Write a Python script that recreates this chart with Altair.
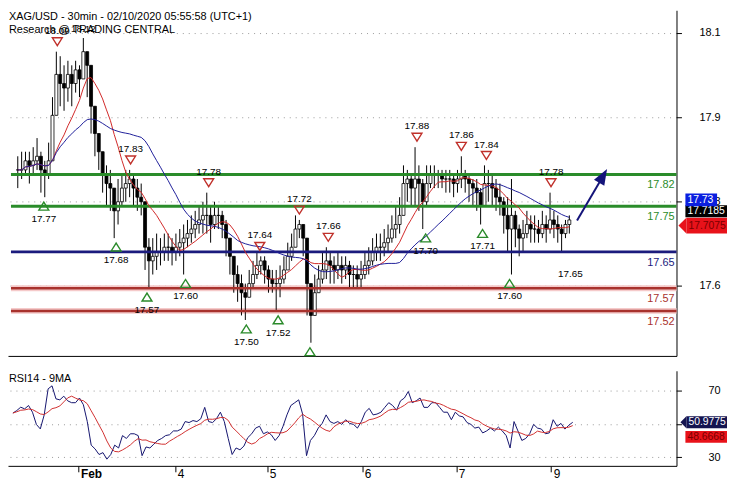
import json
import altair as alt
import pandas as pd

# ---------------- data (hourly candles) ----------------
close = [17.83,17.83,17.85,17.84,17.85,17.86,17.83,17.82,17.85,17.95,
18.04,18.02,18.01,18.04,18.02,18.05,18.03,18.09,18.06,17.97,
17.91,17.87,17.82,17.80,17.79,17.74,17.76,17.79,17.80,17.81,
17.79,17.77,17.76,17.66,17.63,17.64,17.65,17.65,17.66,17.66,
17.65,17.66,17.67,17.68,17.69,17.70,17.71,17.72,17.73,17.73,
17.71,17.73,17.73,17.71,17.68,17.64,17.60,17.58,17.56,17.55,
17.58,17.60,17.62,17.63,17.61,17.59,17.58,17.58,17.59,17.61,
17.64,17.66,17.70,17.71,17.68,17.58,17.51,17.56,17.59,17.61,
17.63,17.62,17.61,17.62,17.61,17.62,17.60,17.60,17.59,17.60,
17.62,17.63,17.65,17.66,17.66,17.67,17.68,17.70,17.71,17.73,
17.80,17.81,17.79,17.81,17.80,17.76,17.80,17.82,17.82,17.82,
17.81,17.81,17.81,17.80,17.81,17.82,17.81,17.80,17.79,17.78,
17.75,17.80,17.80,17.79,17.77,17.76,17.73,17.70,17.73,17.70,
17.68,17.69,17.71,17.70,17.70,17.69,17.71,17.70,17.72,17.71,
17.70,17.69,17.71,17.72]

high = [17.86,17.87,17.87,17.87,17.88,17.90,17.87,17.85,17.89,17.99,
18.09,18.08,18.06,18.07,18.06,18.07,18.06,18.12,18.09,18.01,
17.95,17.91,17.87,17.84,17.83,17.79,17.81,17.82,17.83,17.83,
17.82,17.81,17.80,17.73,17.68,17.68,17.69,17.68,17.69,17.69,
17.68,17.69,17.70,17.71,17.72,17.73,17.74,17.75,17.76,17.78,
17.75,17.76,17.75,17.74,17.72,17.68,17.64,17.62,17.60,17.58,
17.61,17.63,17.65,17.64,17.64,17.62,17.61,17.61,17.62,17.64,
17.67,17.69,17.73,17.72,17.71,17.64,17.58,17.60,17.62,17.65,
17.66,17.65,17.64,17.65,17.64,17.64,17.63,17.62,17.62,17.63,
17.65,17.66,17.68,17.69,17.69,17.70,17.71,17.73,17.75,17.77,
17.84,17.83,17.82,17.88,17.84,17.81,17.84,17.84,17.84,17.83,
17.83,17.83,17.83,17.82,17.83,17.86,17.83,17.82,17.81,17.81,
17.79,17.84,17.83,17.82,17.81,17.80,17.77,17.77,17.81,17.74,
17.71,17.72,17.74,17.73,17.73,17.72,17.74,17.73,17.78,17.74,
17.73,17.71,17.72,17.73]

low = [17.79,17.81,17.82,17.80,17.82,17.83,17.78,17.77,17.81,17.89,
17.97,17.97,17.96,17.98,17.97,18.00,17.99,18.06,17.99,17.91,
17.86,17.83,17.78,17.75,17.74,17.68,17.71,17.75,17.76,17.77,
17.75,17.74,17.73,17.61,17.57,17.60,17.61,17.62,17.63,17.63,
17.62,17.63,17.64,17.60,17.66,17.67,17.68,17.69,17.69,17.69,
17.67,17.70,17.70,17.68,17.64,17.60,17.56,17.54,17.51,17.50,
17.55,17.57,17.59,17.60,17.58,17.56,17.56,17.52,17.55,17.58,
17.61,17.63,17.67,17.68,17.64,17.51,17.45,17.51,17.56,17.58,
17.59,17.58,17.58,17.59,17.58,17.59,17.57,17.57,17.57,17.57,
17.59,17.60,17.62,17.63,17.63,17.64,17.65,17.67,17.68,17.69,
17.74,17.76,17.75,17.75,17.74,17.70,17.75,17.79,17.79,17.79,
17.79,17.78,17.78,17.77,17.78,17.79,17.78,17.76,17.75,17.74,
17.71,17.75,17.76,17.75,17.74,17.73,17.69,17.65,17.60,17.66,
17.64,17.65,17.68,17.67,17.67,17.67,17.68,17.67,17.69,17.68,
17.67,17.65,17.68,17.69]

rsi = [56.5,58,60,59,61,57,49.7,47,55.4,71,
72.8,65,64.4,66.6,63.8,62.7,62.7,65.5,61.5,51.4,
37.3,35,31.7,32.8,28.9,31.7,37.3,35.6,43,41.3,
44.1,44.1,43,31,36.2,35.6,37.9,40.1,41.3,43,
43.5,45.8,45.8,46.9,51.4,50.8,52,51.4,53.1,59.9,
51.4,50.8,53.1,57,51.4,41.3,31.7,35.6,34.5,36.7,
41.8,44.1,47.5,48.6,44.1,45.2,43.5,40.1,43,48.6,
55.4,61,62.7,64.4,55.9,31,40.1,43,47.5,50.3,
55.4,51.4,50.3,51.4,49.7,52.5,50.3,49.7,47.5,51.4,
57,59.3,55.4,55.9,57,59.9,62.7,61,58.2,63.8,
65.5,69.4,62.7,63.8,65.5,59.9,59.9,62.7,62.7,59.9,
57,57,52.5,57,54.8,54.2,50.8,49.7,47.5,48.1,
44.6,45.8,47.5,45.8,48.1,45.8,43,35.6,51.4,45.8,
40.1,41.3,44.1,49.7,47.5,46.9,44.1,44.6,52.5,48.6,
50.3,46.9,49.2,50.98]

res_i = [10.25, 29.25, 49.5, 62.75, 73, 80.5, 103.5, 115, 121.5, 138.25]
res_v = [18.09, 17.83, 17.78, 17.64, 17.72, 17.66, 17.88, 17.86, 17.84, 17.78]
sup_i = [6.75, 25.5, 33.5, 43.5, 59.25, 67.5, 75.75, 105.75, 120.5, 127.5]
sup_v = [17.77, 17.68, 17.57, 17.60, 17.50, 17.52, 17.45, 17.70, 17.71, 17.60]
sup_txt = ["17.77", "17.68", "17.57", "17.60", "17.50", "17.52", "", "17.70", "17.71", "17.60"]
top_i, top_v, top_txt = [17], [18.12], ["18.12"]
low_i, low_v, low_txt = [143.25], [17.65], ["17.65"]

level_v = [17.82, 17.75, 17.65, 17.57, 17.52]
level_k = ["res", "res", "piv", "sup", "sup"]

day_pos = [16.75, 41.5, 65, 89.25, 113.25, 137.5]
day_lab = ["Feb", "4", "5", "6", "7", "9"]
price_ticks = [17.575, 17.760, 17.946, 18.131]
rsi_ticks = [30, 50, 70]

arrow_i = [145, 151.5]
arrow_v = [17.719, 17.813]

titles = ["XAG/USD - 30min - 02/10/2020 05:55:58 (UTC+1)", "Research @ TRADING CENTRAL"]
rsi_title = "RSI14 - 9MA"

# ---------------- layout ----------------
W, H1, H2 = 675, 349, 96
FONT = "Liberation Sans"
xs = alt.Scale(domain=[-1.25, 169.5], nice=False, zero=False)
ys = alt.Scale(domain=[17.421, 18.181], nice=False, zero=False)
rs = alt.Scale(domain=[24.9, 81.8], nice=False, zero=False)

GRID = dict(grid=True, gridColor="#9a9a9a", gridDash=[1, 5], gridWidth=1)
ax_x_main = alt.Axis(title=None, labels=False, ticks=False, grid=False, domainColor="black",
                     minExtent=0, maxExtent=0)
ax_y_main = alt.Axis(title=None, orient="right", values=price_ticks, format=".1f", tickSize=5,
                     tickColor="black", domainColor="black", labelAlign="right", labelPadding=39,
                     labelFontSize=11, labelColor="black", **GRID)
label_expr = f"{json.dumps(day_lab)}[indexof({json.dumps(day_pos)}, datum.value)]"
ax_x_rsi = alt.Axis(title=None, values=day_pos, labelExpr=label_expr, tickSize=6, tickColor="black",
                    domainColor="black", labelAlign="left", labelBaseline="top", labelPadding=-3,
                    labelOffset=2, labelFontSize=12, labelColor="black",
                    labelFontWeight=alt.ExprRef("datum.value == 16.75 ? 'bold' : 'normal'"),
                    grid=False, labelOverlap=False, labelFlush=False)
ax_y_rsi = alt.Axis(title=None, orient="right", values=rsi_ticks, format="d", tickSize=5,
                    tickColor="black", domainColor="black", labelAlign="right", labelPadding=39,
                    labelFontSize=11, labelColor="black", **GRID)


def XM(f):
    return alt.X(f, type="quantitative", scale=xs, axis=ax_x_main)


def YM(f):
    return alt.Y(f, type="quantitative", scale=ys, axis=ax_y_main)


def XR(f):
    return alt.X(f, type="quantitative", scale=xs, axis=ax_x_rsi)


def YR(f):
    return alt.Y(f, type="quantitative", scale=rs, axis=ax_y_rsi)


# ---------------- main panel ----------------
n = len(close)
opens = [close[0]] + close[:-1]
cdf = pd.DataFrame({
    "i": list(range(n)),
    "open": opens,
    "close": close,
    "high": [max(h, o, c) for h, o, c in zip(high, opens, close)],
    "low": [min(l, o, c) for l, o, c in zip(low, opens, close)],
})

wick = alt.Chart(cdf).mark_rule(color="black", strokeWidth=1).encode(
    x=XM("i"), y=YM("low"), y2="high")
body = alt.Chart(cdf).mark_bar(width=3, stroke="black", strokeWidth=0.8).encode(
    x=XM("i"), y=YM("open"), y2="close",
    fill=alt.condition("datum.close >= datum.open", alt.value("white"), alt.value("black")))
ma_red = alt.Chart(cdf).transform_window(
    ma="mean(close)", frame=[-9, 0], sort=[alt.SortField("i")]
).mark_line(color="#d02828", strokeWidth=1).encode(x=XM("i"), y=YM("ma"))
ma_blue = alt.Chart(cdf).transform_window(
    ma="mean(close)", frame=[-24, 0], sort=[alt.SortField("i")]
).mark_line(color="#1f1f9a", strokeWidth=1).encode(x=XM("i"), y=YM("ma"))

ldf = pd.DataFrame({"v": level_v, "k": level_k, "t": [f"{v:.2f}" for v in level_v]})
line_scale = alt.Scale(domain=["res", "piv", "sup"], range=["#2a8c2a", "#1b1b7d", "#a8322d"])
text_scale = alt.Scale(domain=["res", "piv", "sup"], range=["#2e8b2e", "#1c1c70", "#a33a3a"])
size_scale = alt.Scale(domain=["res", "piv", "sup"], range=[3, 2.5, 2.5])
halo = alt.Chart(ldf).transform_filter("datum.k == 'sup'").mark_rule(
    strokeWidth=6, color="#f5caca").encode(x=alt.value(3), x2=alt.value(W), y=YM("v"))
levels = alt.Chart(ldf).mark_rule().encode(
    x=alt.value(3), x2=alt.value(W), y=YM("v"),
    color=alt.Color("k:N", scale=line_scale, legend=None),
    size=alt.Size("k:N", scale=size_scale, legend=None))
level_txt = alt.Chart(ldf).mark_text(align="right", baseline="middle", dy=11, fontSize=11).encode(
    x=alt.value(W - 2), y=YM("v"), text="t:N",
    color=alt.Color("k:N", scale=text_scale, legend=None))

TRI_DOWN = "M-1,-0.8L1,-0.8L0,0.8Z"
TRI_UP = "M-1,0.8L1,0.8L0,-0.8Z"
rdf_m = pd.DataFrame({"i": res_i, "v": res_v, "t": [f"{v:.2f}" for v in res_v]})
sdf_m = pd.DataFrame({"i": sup_i, "v": sup_v, "t": sup_txt})
res_tri = alt.Chart(rdf_m).mark_point(shape=TRI_DOWN, size=100, color="#c0302a", strokeWidth=1.4,
                                      filled=False, opacity=1, yOffset=-10).encode(x=XM("i"), y=YM("v"))
res_lab = alt.Chart(rdf_m).mark_text(dy=-21, fontSize=10, color="black").encode(
    x=XM("i"), y=YM("v"), text="t:N")
sup_tri = alt.Chart(sdf_m).mark_point(shape=TRI_UP, size=100, color="#2a8a2a", strokeWidth=1.4,
                                      filled=False, opacity=1, yOffset=9).encode(x=XM("i"), y=YM("v"))
sup_lab = alt.Chart(sdf_m).mark_text(dy=22, fontSize=10, color="black").encode(
    x=XM("i"), y=YM("v"), text="t:N")
top_lab = alt.Chart(pd.DataFrame({"i": top_i, "v": top_v, "t": top_txt})).mark_text(
    dy=-9, fontSize=10, color="black").encode(x=XM("i"), y=YM("v"), text="t:N")
low_lab = alt.Chart(pd.DataFrame({"i": low_i, "v": low_v, "t": low_txt})).mark_text(
    dy=22, fontSize=10, color="black").encode(x=XM("i"), y=YM("v"), text="t:N")

adf = pd.DataFrame({"i": arrow_i, "v": arrow_v})
arrow_line = alt.Chart(adf).mark_line(color="#14147a", strokeWidth=2).encode(x=XM("i"), y=YM("v"))
arrow_head = alt.Chart(adf.tail(1)).mark_point(
    shape="M0,-1L0.6,0.6L-0.6,0.6Z", size=400, filled=True, color="#14147a", opacity=1, angle=30
).encode(x=XM("i"), y=YM("v"))


def box(v, label, off, half, x0, x1, fill, tcolor, arrow, Yf):
    base = alt.Chart(pd.DataFrame({"v": [v], "t": [label]}))
    out = [base.mark_rect(color=fill, yOffset=off - half, y2Offset=off + half).encode(
        x=alt.value(x0), x2=alt.value(x1), y=Yf("v"), y2="v")]
    if arrow:
        out.append(base.mark_point(shape="M0.5,-1L-0.5,0L0.5,1Z", size=(2 * half) ** 2, filled=True,
                                   color=fill, opacity=1, strokeWidth=0, yOffset=off).encode(
            x=alt.value(x0 - half / 2), y=Yf("v")))
    out.append(base.mark_text(align="left", baseline="middle", color=tcolor, fontSize=10.5, dy=off).encode(
        x=alt.value(x0 + 2), y=Yf("v"), text="t:N"))
    return out


boxes_main = (box(17.7075, "17.7075", 0, 8, W + 10, W + 51, "#e8121a", "#7a0000", True, YM)
              + box(17.7185, "17.7185", -9.4, 6, W + 9, W + 51, "#000000", "white", False, YM)
              + box(17.73, "17.73", -15.7, 6.5, W + 9, W + 41, "#0b1fe0", "white", False, YM))

t1 = alt.Chart(pd.DataFrame({"t": [titles[0]]})).mark_text(
    align="left", baseline="middle", fontSize=11, color="black").encode(
    x=alt.value(1), y=alt.value(7), text="t:N")
t2 = alt.Chart(pd.DataFrame({"t": [titles[1]]})).mark_text(
    align="left", baseline="middle", fontSize=11, color="black").encode(
    x=alt.value(1), y=alt.value(20), text="t:N")

main = alt.layer(halo, wick, body, levels, ma_red, ma_blue, level_txt,
                 res_tri, res_lab, sup_tri, sup_lab, top_lab, low_lab,
                 arrow_line, arrow_head, *boxes_main, t1, t2).properties(width=W, height=H1)

# ---------------- RSI panel ----------------
rdf = pd.DataFrame({"i": list(range(n)), "rsi": rsi})
rsi_line = alt.Chart(rdf).mark_line(color="#14146e", strokeWidth=1).encode(x=XR("i"), y=YR("rsi"))
rsi_ma = alt.Chart(rdf).transform_window(
    ma="mean(rsi)", frame=[-6, 0], sort=[alt.SortField("i")]
).mark_line(color="#d03030", strokeWidth=1).encode(x=XR("i"), y=YR("ma"))
boxes_rsi = (box(48.6668, "48.6668", 10.8, 6, W + 9, W + 51, "#e8121a", "#7a0000", False, YR)
             + box(50.9775, "50.9775", 0, 6, W + 10, W + 51, "#141450", "white", True, YR))
rt = alt.Chart(pd.DataFrame({"t": [rsi_title]})).mark_text(
    align="left", baseline="middle", fontSize=11, color="black").encode(
    x=alt.value(1), y=alt.value(8), text="t:N")

rsi_chart = alt.layer(rsi_line, rsi_ma, *boxes_rsi, rt).properties(width=W, height=H2)

chart = alt.vconcat(main, rsi_chart, spacing=1).properties(
    padding=0, background="white"
).configure_view(stroke=None).configure_text(font=FONT).configure_axis(labelFont=FONT)

chart.save("out.html", embed_options={"renderer": "svg", "actions": False})
